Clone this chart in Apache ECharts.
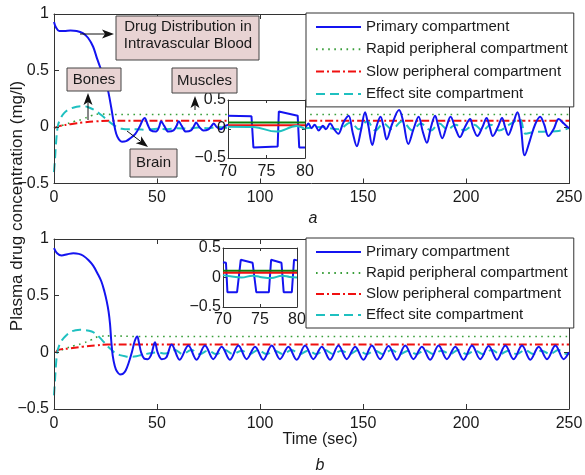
<!DOCTYPE html>
<html>
<head>
<meta charset="utf-8">
<script src="https://cdn.jsdelivr.net/npm/echarts@6/dist/echarts.min.js"></script>
<style>
  html, body { margin: 0; padding: 0; background: #fff; }
  #chart { width: 585px; height: 475px; }
</style>
</head>
<body>
<div id="chart"></div>
<script>
// tick labels
const timeTicks = [0, 50, 100, 150, 200, 250]
const concTicks = [-0.5, 0, 0.5, 1]
const insetTimeTicks = [70, 75, 80]
const insetConcTicks = [-0.5, 0, 0.5]

const seriesNames = ['Primary compartment', 'Rapid peripheral compartment', 'Slow peripheral compartment', 'Effect site compartment']

// panel a: [time (sec), concentration (mg/l)]
const primaryA = [[0,0.93],[1,0.88],[2.5,0.85],[5,0.85],[8,0.855],[11,0.85],[14,0.83],[16.5,0.79],[19,0.71],[21,0.6],[23,0.5],[25,0.41],[26.5,0.3],[27.8,0.17],[29,0.04],[30.2,-0.06],[31.5,-0.11],[33,-0.13],[35,-0.125],[37,-0.1],[39.5,-0.06],[41.5,0],[43,0.06],[44,0.08],[45.5,0.02],[47,-0.03],[49.5,-0.04],[51,0],[52,0.05],[53.5,0.01],[55.5,-0.04],[58,-0.03],[59.5,0.01],[60.5,0.05],[62,0.01],[64,-0.04],[66.5,-0.03],[68,0.01],[69,0.04],[70.5,0],[72.5,-0.03],[75,-0.02],[76.5,0.01],[77.5,0.03],[79,0],[81,-0.02],[83,0.01],[86,0.02],[95,-0.01],[105,0.01],[115,-0.01],[122,0],[123.5,0.03],[125,-0.01],[126.5,0.02],[128.5,-0.03],[130.5,0.01],[132,-0.02],[134,0.03],[136,-0.02],[138,-0.06],[140.5,0.04],[143,0.1],[145,-0.05],[147,-0.17],[149,-0.03],[151,0.13],[152.5,0.02],[154.5,-0.16],[156.5,0],[158.5,0.09],[160,0],[161.5,-0.11],[164,0.02],[167.5,0.15],[169.5,0.05],[172,-0.15],[174.5,-0.02],[177,0.09],[179,-0.04],[181,-0.14],[183,0],[185,0.1],[186.5,0.01],[188.5,-0.1],[190.5,0],[192.5,0.09],[195,-0.02],[197,-0.09],[199.5,0],[202,0.07],[203.5,-0.01],[205.5,-0.08],[208,0],[210,0.08],[211.5,0],[213,-0.08],[215.5,0],[217.5,0.08],[219,0],[220.5,-0.07],[223,0.04],[225,0.13],[226.5,0.02],[228.5,-0.25],[231,-0.12],[233.5,0.02],[236,0.09],[238,0.02],[240,-0.08],[242.5,-0.02],[245,0.07],[247.5,0.03],[250,-0.01]]
const rapidA = [[1,0],[5,0.02],[10,0.05],[14,0.07],[18,0.1],[22,0.115],[30,0.11],[80,0.11],[160,0.11],[250,0.11]]
const slowA = [[0,-0.01],[3,0.01],[8,0.025],[14,0.04],[20,0.05],[27,0.055],[80,0.055],[160,0.055],[250,0.055]]
const effectA = [[0,-0.4],[0.5,-0.28],[1,-0.14],[1.8,0],[3,0.07],[5,0.125],[7.8,0.16],[11,0.18],[14,0.185],[17,0.172],[20,0.145],[22,0.12],[24,0.09],[26,0.06],[28,0.03],[30.5,0],[33,-0.015],[36,-0.02],[40,-0.02],[45,-0.025],[50,-0.015],[55,-0.02],[60,-0.01],[65,-0.015],[70,-0.005],[75,-0.01],[80,0],[85,-0.01],[100,0],[122,-0.01],[130,0],[138,-0.02],[144,0.04],[148,-0.02],[152,0.05],[156,-0.03],[160,0.03],[164,-0.02],[169,0.05],[174,-0.03],[178,0.03],[183,-0.03],[187,0.03],[191,-0.02],[195,0.02],[199,-0.03],[204,0.02],[208,-0.03],[212,0.02],[216,-0.03],[221,0.02],[226,0.07],[229,-0.06],[233,-0.045],[240,-0.04],[245,-0.035],[250,-0.01]]

// panel a inset (70-80 sec)
const primaryInsetA = [[70,0.23],[73.05,0.22],[73.3,-0.32],[76.45,-0.3],[76.6,0.3],[79.05,0.23],[79.25,-0.32],[80,-0.32]]
const rapidInsetA = [[70,0.11],[75,0.11],[80,0.11]]
const slowInsetA = [[70,0.065],[75,0.065],[80,0.065]]
const effectInsetA = [[70,0.04],[73.3,0.035],[76.3,-0.045],[78.9,0.05],[80,0]]

// panel b
const primaryB = [[0,0.92],[1.5,0.875],[3.7,0.855],[6.5,0.866],[9.4,0.874],[12,0.869],[14.2,0.852],[16.8,0.812],[19,0.765],[21,0.7],[23,0.625],[24.5,0.535],[25.6,0.45],[26.5,0.36],[27.2,0.25],[27.8,0.1],[28.5,-0.03],[29.5,-0.12],[30.6,-0.17],[32,-0.195],[33.4,-0.19],[34.8,-0.16],[36.3,-0.09],[37.8,0],[39.2,0.1],[40.4,0.14],[41.3,0.08],[42.3,0],[43.8,-0.055],[45.5,-0.06],[47.2,-0.02],[49,0.09],[50.3,0],[52.3,-0.06],[54.5,-0.045],[57.1,0.07],[61,-0.065],[65.2,0.06],[69.2,-0.065],[73.3,0.06],[77.3,-0.06],[81.4,0.05],[85.4,-0.065],[89.5,0.06],[93.5,-0.06],[97.6,0.05],[101.6,-0.065],[105.7,0.06],[109.7,-0.06],[113.8,0.05],[117.8,-0.065],[121.9,0.06],[125.9,-0.06],[130,0.05],[134,-0.065],[138.1,0.06],[142.1,-0.06],[146.2,0.05],[150.2,-0.065],[154.3,0.06],[158.3,-0.06],[162.4,0.055],[166.4,-0.065],[170.5,0.06],[174.5,-0.06],[178.6,0.05],[182.6,-0.065],[186.7,0.06],[190.7,-0.06],[194.8,0.05],[198.8,-0.065],[202.9,0.06],[206.9,-0.06],[211,0.055],[215,-0.065],[219.1,0.06],[223.1,-0.06],[227.2,0.06],[231.2,-0.065],[235.3,0.05],[239.3,-0.06],[243.4,0.06],[247.4,-0.06],[250,0]]
const rapidB = [[1,0],[5,0.03],[10,0.06],[14,0.08],[18,0.11],[22,0.14],[28,0.145],[40,0.14],[120,0.14],[250,0.14]]
const slowB = [[1,0],[2,0.02],[8,0.035],[14,0.05],[20,0.06],[26,0.07],[40,0.07],[120,0.07],[250,0.07]]
const effectB = [[0,-0.38],[0.5,-0.24],[1,-0.1],[1.6,0],[2.5,0.06],[4,0.11],[6,0.15],[8,0.18],[10.5,0.195],[12.6,0.2],[15,0.197],[17,0.19],[19,0.178],[21,0.152],[22.5,0.125],[24,0.095],[26,0.055],[28,0.02],[30,-0.01],[32,-0.025],[34.5,-0.035],[37,-0.04],[40,-0.035],[43,-0.02],[46,-0.01],[50,0],[54,-0.01],[58.6,0.02],[62.5,-0.015],[66.7,0.02],[70.7,-0.015],[74.8,0.015],[78.8,-0.015],[82.9,0.02],[86.9,-0.015],[91,0.015],[95,-0.015],[99.1,0.02],[103.1,-0.015],[107.2,0.015],[111.2,-0.015],[115.3,0.02],[119.3,-0.015],[123.4,0.015],[127.4,-0.015],[131.5,0.02],[135.5,-0.015],[139.6,0.015],[143.6,-0.015],[147.7,0.02],[151.7,-0.015],[155.8,0.015],[159.8,-0.015],[163.9,0.02],[167.9,-0.015],[172,0.015],[176,-0.015],[180.1,0.02],[184.1,-0.015],[188.2,0.015],[192.2,-0.015],[196.3,0.02],[200.3,-0.015],[204.4,0.015],[208.4,-0.015],[212.5,0.02],[216.5,-0.015],[220.6,0.015],[224.6,-0.015],[228.7,0.02],[232.7,-0.015],[236.8,0.015],[240.8,-0.015],[244.9,0.02],[248.9,-0.015],[250,-0.01]]

// panel b inset (70-80 sec)
const primaryInsetB = [[70,0.26],[70.4,0.25],[70.6,-0.25],[71.9,-0.25],[72.4,0.3],[74,0.25],[74.5,-0.25],[76.2,-0.25],[76.5,0.3],[77.9,0.25],[78.2,-0.25],[79.3,-0.25],[79.6,0.3],[80,0.29]]
const rapidInsetB = [[70,0.115],[75,0.115],[80,0.115]]
const slowInsetB = [[70,0.08],[75,0.08],[80,0.08]]
const effectInsetB = [[70,0.04],[71,0.02],[72.5,0],[74,0.03],[75,0.01],[76.5,-0.01],[78,0.03],[79,0.01],[80,0]]

const FONT = '"Liberation Sans", Arial, Helvetica, sans-serif'
const INK = '#1a1a1a'
const AXIS = '#333'
const BLUE = '#1414f0'
const GREEN = '#3a9e3a'
const RED = '#f01010'
const CYAN = '#1fc0c0'

const xAxes = []
const yAxes = []

function addAxes(gridIndex, xt, yt, tickLen, xMargin, yMargin, z) {
  const line = { show: true, onZero: false, lineStyle: { color: AXIS, width: 1 } }
  const tick = { show: true, inside: true, length: tickLen, lineStyle: { color: AXIS } }
  const label = { fontSize: 16, color: INK, fontFamily: FONT, showMinLabel: true, showMaxLabel: true }
  const xr = { min: xt[0], max: xt[xt.length - 1], interval: xt[1] - xt[0] }
  const yr = { min: yt[0], max: yt[yt.length - 1], interval: yt[1] - yt[0] }
  const minus = v => String(v).replace('-', '\u2212')
  xAxes.push({ gridIndex, type: 'value', position: 'bottom', ...xr, axisLine: line, axisTick: tick, splitLine: { show: false }, z,
    axisLabel: { ...label, margin: xMargin } })
  xAxes.push({ gridIndex, type: 'value', position: 'top', ...xr, axisLine: line, axisTick: tick, splitLine: { show: false }, z,
    axisLabel: { show: false } })
  yAxes.push({ gridIndex, type: 'value', position: 'left', ...yr, axisLine: line, axisTick: tick, splitLine: { show: false }, z,
    axisLabel: { ...label, margin: yMargin, formatter: minus } })
  yAxes.push({ gridIndex, type: 'value', position: 'right', ...yr, axisLine: line, axisTick: tick, splitLine: { show: false }, z,
    axisLabel: { show: false } })
}

addAxes(0, timeTicks, concTicks, 5, 6, 5, 3)
addAxes(1, timeTicks, concTicks, 5, 7, 5, 3)
addAxes(2, insetTimeTicks, insetConcTicks, 3, 6, 2, 11)
addAxes(3, insetTimeTicks, insetConcTicks, 3, 5, 2, 11)

function line(name, data, g, color, type, smooth, z) {
  return {
    type: 'line', name, data, xAxisIndex: 2 * g, yAxisIndex: 2 * g,
    symbol: 'none', showSymbol: false, smooth, silent: true, z,
    lineStyle: { color, width: type === 'dotted' ? 1.6 : 2, type: type === 'dotted' ? [1.6, 4.5] : type },
    itemStyle: { color }
  }
}

const dashDot = [8, 3, 2, 3]
const dashed = [9, 5]

const series = [
  line(seriesNames[1], rapidA, 0, GREEN, 'dotted', 0.4, 2),
  line(seriesNames[2], slowA, 0, RED, dashDot, 0.4, 2),
  line(seriesNames[3], effectA, 0, CYAN, dashed, 0.4, 2),
  line(seriesNames[0], primaryA, 0, BLUE, 'solid', 0.35, 3),
  line(seriesNames[1], rapidB, 1, GREEN, 'dotted', 0.4, 2),
  line(seriesNames[2], slowB, 1, RED, dashDot, 0.4, 2),
  line(seriesNames[3], effectB, 1, CYAN, dashed, 0.4, 2),
  line(seriesNames[0], primaryB, 1, BLUE, 'solid', 0.35, 3),
  line('inset a primary', primaryInsetA, 2, BLUE, 'solid', false, 12),
  line('inset a rapid', rapidInsetA, 2, '#0a800a', 'solid', false, 12),
  line('inset a slow', slowInsetA, 2, RED, 'solid', false, 12),
  line('inset a effect', effectInsetA, 2, CYAN, 'solid', 0.4, 12),
  line('inset b primary', primaryInsetB, 3, BLUE, 'solid', false, 12),
  line('inset b rapid', rapidInsetB, 3, '#0a800a', 'solid', false, 12),
  line('inset b slow', slowInsetB, 3, RED, 'solid', false, 12),
  line('inset b effect', effectInsetB, 3, CYAN, 'solid', 0.4, 12)
]

function legendAt(top, gap) {
  return {
    orient: 'vertical', left: 306, top, data: seriesNames.slice(),
    itemWidth: 45, itemHeight: 14, itemGap: gap, padding: [6, 6, 5, 9],
    borderColor: AXIS, borderWidth: 1, backgroundColor: '#fff', selectedMode: false, z: 20,
    // only the line sample, no marker in the middle
    itemStyle: { opacity: 0, color: 'rgba(0,0,0,0)', borderWidth: 0 },
    textStyle: { fontSize: 15, fontFamily: FONT, color: INK, lineHeight: 16 }
  }
}

function box(x, y, w, h) {
  return { type: 'rect', z: 30, shape: { x, y, width: w, height: h }, style: { fill: '#e8d3d3', stroke: '#444', lineWidth: 1 } }
}
function label(x, y, text, font, extra) {
  return Object.assign({ type: 'text', z: 31, x, y,
    style: { text, font, fill: INK, align: 'center', verticalAlign: 'middle', textAlign: 'center', textVerticalAlign: 'middle' } }, extra || {})
}
function arrow(x1, y1, x2, y2) {
  const len = Math.hypot(x2 - x1, y2 - y1)
  const dx = (x2 - x1) / len, dy = (y2 - y1) / len
  const nx = -dy, ny = dx
  const hl = 12, hw = 4.5, notch = 9
  const bx = x2 - hl * dx, by = y2 - hl * dy
  return [
    { type: 'line', z: 30, shape: { x1, y1, x2: x2 - notch * dx, y2: y2 - notch * dy }, style: { stroke: '#111', lineWidth: 1 } },
    { type: 'polygon', z: 30, shape: { points: [[x2, y2], [bx + hw * nx, by + hw * ny], [x2 - notch * dx, y2 - notch * dy], [bx - hw * nx, by - hw * ny]] },
      style: { fill: '#111' } }
  ]
}

const annFont = '15px ' + FONT
const graphic = [
  box(116, 16, 143, 44),
  label(188, 35.5, 'Drug Distribution in\nIntravascular Blood', annFont, { style: { text: 'Drug Distribution in\nIntravascular Blood', font: annFont, fill: INK, align: 'center', verticalAlign: 'middle', lineHeight: 17 } }),
  ...arrow(80, 34, 114, 34),
  box(67, 68, 54, 23),
  label(94, 79.5, 'Bones', annFont),
  ...arrow(88, 120, 88, 93),
  box(172, 68, 65, 25),
  label(204.5, 80.5, 'Muscles', annFont),
  ...arrow(195, 110, 195, 96),
  box(130, 149, 47, 28),
  label(153.5, 163, 'Brain', annFont),
  ...arrow(127, 131, 148, 147),
  label(313, 219, 'a', 'italic 16px ' + FONT),
  label(320, 466, 'b', 'italic 16px ' + FONT),
  label(320, 440, 'Time (sec)', '16px ' + FONT),
  label(17, 206, 'Plasma drug concentration (mg/l)', '17px ' + FONT, { rotation: Math.PI / 2 })
]

const chart = echarts.init(document.getElementById('chart'), null, { renderer: 'canvas' })
chart.setOption({
  animation: false,
  backgroundColor: '#fff',
  grid: [
    { left: 54, top: 14, width: 515, height: 169.5, outerBoundsMode: 'none' },
    { left: 54, top: 239, width: 515, height: 170, outerBoundsMode: 'none' },
    { left: 228, top: 100, width: 77, height: 58, show: true, backgroundColor: '#fff', borderWidth: 0, z: 10, outerBoundsMode: 'none' },
    { left: 223, top: 248, width: 74, height: 59, show: true, backgroundColor: '#fff', borderWidth: 0, z: 10, outerBoundsMode: 'none' }
  ],
  xAxis: xAxes,
  yAxis: yAxes,
  legend: [legendAt(13, 6.3), legendAt(238, 5)],
  series,
  graphic
})
</script>
</body>
</html>
